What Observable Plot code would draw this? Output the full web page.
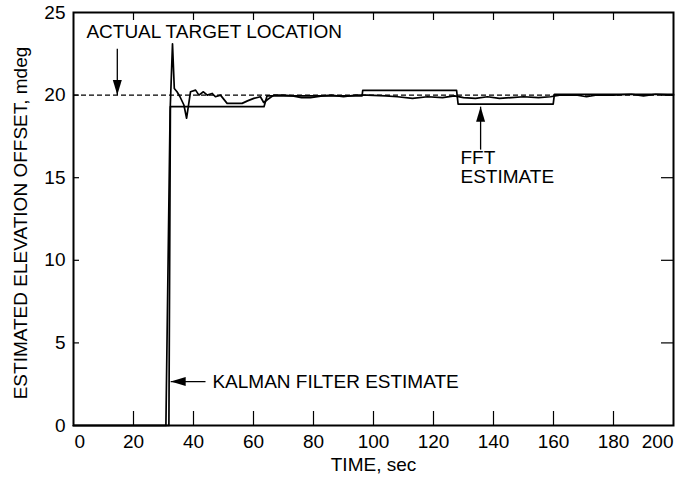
<!DOCTYPE html>
<html>
<head>
<meta charset="utf-8">
<script src="https://cdn.jsdelivr.net/npm/d3@7"></script>
<script src="https://cdn.jsdelivr.net/npm/@observablehq/plot@0.6"></script>
<style>
  html, body { margin: 0; padding: 0; background: #fff; }
  #chart svg { display: block; }
</style>
</head>
<body>
<div id="chart"></div>
<script>
// ---- data ----
const kalmanTime = [0, 30.8, 32.2, 33.0, 33.6, 34.5, 35.5, 36.8, 37.7, 39.0, 40.7, 41.8, 43.3, 44.6, 46.2, 47.3, 49.0, 51.2, 53.5, 56.2, 58.0, 60.1, 62.3, 63.4, 64.8, 66.8, 70, 73, 76, 79, 83, 86, 90, 94, 98, 104, 108, 113, 118, 123, 127, 130, 134, 138, 142, 146, 150, 155, 159, 162, 168, 171, 174, 180, 186, 190, 194, 200];
const kalmanValue = [0, 0, 19.0, 23.1, 20.4, 20.2, 19.9, 19.4, 18.6, 20.2, 20.3, 20.0, 20.2, 20.0, 20.1, 19.9, 20.0, 19.5, 19.5, 19.5, 19.65, 19.8, 19.9, 19.55, 19.75, 20.0, 20.0, 19.95, 19.85, 19.85, 19.95, 20.0, 19.9, 20.0, 20.0, 19.95, 19.9, 19.8, 19.9, 19.85, 19.95, 19.85, 19.8, 19.9, 19.8, 19.85, 19.9, 19.85, 19.9, 20.0, 20.0, 19.9, 20.0, 20.0, 20.05, 19.95, 20.05, 20.0];

const fftTime  = [0, 31.8, 32.3, 63.5, 64.5, 96.2, 96.4, 127.7, 128.2, 159.9, 160.3, 200];
const fftValue = [0, 0, 19.3, 19.3, 19.95, 19.95, 20.28, 20.28, 19.45, 19.45, 20.05, 20.05];

const targetLocation = 20;

const xTicks = [0, 20, 40, 60, 80, 100, 120, 140, 160, 180, 200];
const yTicks = [0, 5, 10, 15, 20, 25];

const xLabel = "TIME, sec";
const yLabel = "ESTIMATED ELEVATION OFFSET, mdeg";

// annotations: text and arrows (data coordinates)
const notes = [
  {text: "ACTUAL TARGET LOCATION", t: 4.3, v: 23.8},
  {text: "FFT\nESTIMATE", t: 129, v: 15.6},
  {text: "KALMAN FILTER ESTIMATE", t: 46.3, v: 2.66}
];
const arrows = [
  {t1: 14.6, v1: 22.8, t2: 14.6, v2: 20.0, rotate: 180},
  {t1: 135.7, v1: 16.7, t2: 135.7, v2: 19.3, rotate: 0},
  {t1: 44.0, v1: 2.66, t2: 32.4, v2: 2.66, rotate: -90}
];

// ---- build tables ----
const kalman = kalmanTime.map((t, i) => ({t, v: kalmanValue[i]}));
const fft = fftTime.map((t, i) => ({t, v: fftValue[i]}));

// elongated triangle with its tip at the origin, pointing up
const arrowHead = {
  draw(context, size) {
    context.moveTo(0, 0);
    context.lineTo(-4.5, 15);
    context.lineTo(4.5, 15);
    context.closePath();
  }
};

const font = "'Liberation Sans', Arial, Helvetica, sans-serif";

const chart = Plot.plot({
  width: 678,
  height: 483,
  marginLeft: 73,
  marginRight: 5,
  marginTop: 12,
  marginBottom: 58,
  style: {fontFamily: font, fontSize: "19px", color: "#000", background: "#fff"},
  x: {domain: [0, 200], axis: null},
  y: {domain: [0, 25], axis: null},
  marks: [
    Plot.ruleY([targetLocation], {stroke: "#000", strokeWidth: 1.2, strokeDasharray: "5,3"}),
    Plot.line(fft, {x: "t", y: "v", stroke: "#000", strokeWidth: 1.7}),
    Plot.line(kalman, {x: "t", y: "v", stroke: "#000", strokeWidth: 1.7}),
    // inward ticks
    Plot.tickX(xTicks.slice(1, -1), {x: d => d, insetTop: 399, stroke: "#000", strokeWidth: 1.2}),
    Plot.tickX(xTicks.slice(1, -1), {x: d => d, insetBottom: 405, stroke: "#000", strokeWidth: 1.2}),
    Plot.tickY(yTicks.slice(1, -1), {y: d => d, insetRight: 594, stroke: "#000", strokeWidth: 1.2}),
    Plot.tickY(yTicks.slice(1, -1), {y: d => d, insetLeft: 588, stroke: "#000", strokeWidth: 1.2}),
    Plot.frame({stroke: "#000", strokeWidth: 2}),
    // tick labels
    Plot.text(xTicks.slice(1, -1), {x: d => d, y: 0, dy: 16, text: d => String(d), fill: "#000"}),
    Plot.text(xTicks.slice(0, 1), {x: d => d, y: 0, dy: 16, text: d => String(d), textAnchor: "start", dx: 1, fill: "#000"}),
    Plot.text(xTicks.slice(-1), {x: d => d, y: 0, dy: 16, text: d => String(d), textAnchor: "end", fill: "#000"}),
    Plot.text(yTicks, {x: 0, y: d => d, text: d => String(d), textAnchor: "end", dx: -8, fill: "#000"}),
    // axis titles
    Plot.text([xLabel], {frameAnchor: "bottom", dy: 45, text: d => d, fill: "#000"}),
    Plot.text([yLabel], {frameAnchor: "left", textAnchor: "middle", dx: -53, dy: 4, rotate: -90, text: d => d, fill: "#000"}),
    // annotations
    Plot.text(notes, {x: "t", y: "v", text: "text", textAnchor: "start", lineHeight: 1.0, fill: "#000"}),
    Plot.link(arrows, {x1: "t1", y1: "v1", x2: "t2", y2: "v2", stroke: "#000", strokeWidth: 1.3}),
    Plot.dot(arrows, {x: "t2", y: "v2", symbol: arrowHead, rotate: "rotate", fill: "#000", stroke: "none"})
  ]
});

document.getElementById("chart").append(chart);
</script>
</body>
</html>
